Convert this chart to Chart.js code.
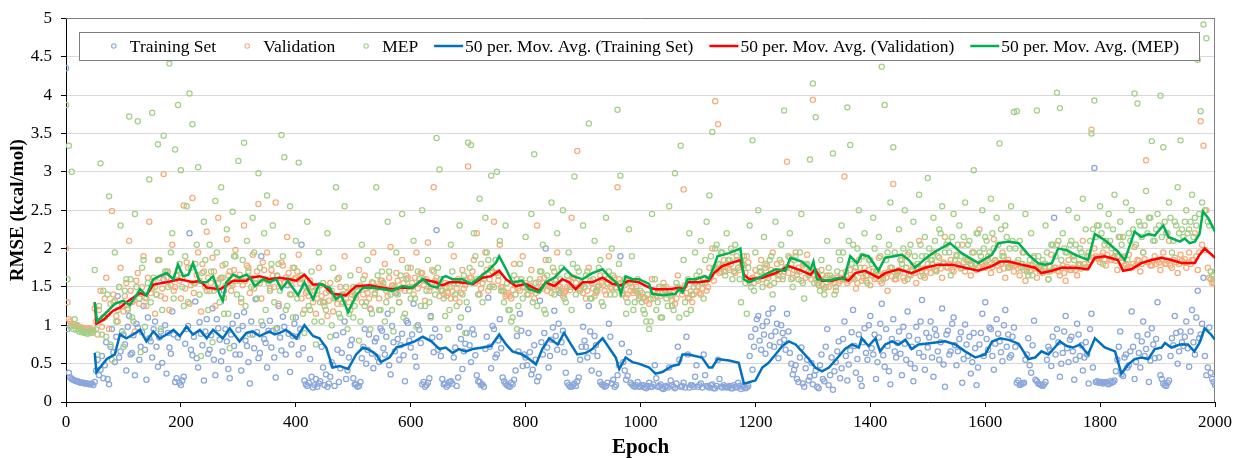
<!DOCTYPE html>
<html><head><meta charset="utf-8">
<script src="https://cdn.jsdelivr.net/npm/chart.js@4.4.1/dist/chart.umd.min.js"></script>
<style>html,body{margin:0;padding:0;background:#fff}canvas{display:block}</style>
</head><body>
<canvas id="c" width="1238" height="458"></canvas>
<script>
// ---------- DATA ----------
const seriesNames = ['Training Set','Validation','MEP','50 per. Mov. Avg. (Training Set)','50 per. Mov. Avg. (Validation)','50 per. Mov. Avg. (MEP)'];
const xTickLabels = ['0','200','400','600','800','1000','1200','1400','1600','1800','2000'];
const yTickLabels = ['0','0.5','1','1.5','2','2.5','3','3.5','4','4.5','5'];
const epochStep = 5;      // arrays "A": epochs 0,5,10,...  arrays "B": epochs 2.5,7.5,...
const trainingSetA = [
4.35,0.38,0.3,0.28,0.27,0.25,0.25,0.24,0.23,0.24,
0.26,0.55,0.42,0.31,0.78,0.23,0.95,0.52,1.38,0.66,
0.88,0.41,1.12,0.64,0.35,0.97,0.72,1.25,0.29,0.83,
0.58,1.05,0.46,0.92,1.6,0.37,0.71,1.18,0.26,0.84,
0.22,0.33,0.95,2.2,0.61,1.31,0.45,0.89,0.28,1.08,
0.68,1.22,0.35,0.96,0.53,1.45,0.79,0.31,1.02,0.62,
0.94,0.41,1.17,0.73,0.24,0.88,1.34,0.57,1.9,0.82,
0.45,1.06,0.93,0.32,1.25,0.67,0.98,1.52,0.39,0.86,
1.1,0.62,2.05,0.28,0.21,0.56,0.19,0.3,0.24,0.72,
0.22,0.2,0.33,0.48,0.87,0.26,0.64,1.05,0.41,0.74,
0.31,0.23,0.21,0.57,0.95,0.68,1.21,0.44,0.83,0.52,
0.93,0.62,1.15,0.36,0.78,1.42,0.55,0.89,0.27,1.03,
0.71,1.28,0.46,0.94,0.23,0.2,0.25,1.12,0.65,2.24,
0.85,0.3,0.24,0.22,0.27,0.58,0.21,0.98,0.43,0.76,
1.21,0.52,0.88,0.35,0.26,0.23,0.69,1.36,0.44,0.95,
0.62,1.08,0.32,0.24,0.21,0.25,0.29,0.86,1.15,0.47,
0.58,0.9,0.36,0.74,0.27,1.32,0.62,2.0,0.45,0.81,
1.19,0.68,1.42,0.93,0.38,0.22,0.2,0.24,0.27,0.55,
0.98,0.72,1.25,0.41,0.86,0.6,0.26,0.22,0.21,1.02,
0.24,0.2,0.35,1.9,0.52,0.29,0.65,0.23,0.2,0.26,
0.2,0.22,0.18,0.25,0.2,0.48,0.2,0.23,0.17,0.21,
0.45,0.22,0.18,0.72,0.2,0.25,0.85,0.19,0.22,0.33,
0.2,0.24,0.62,0.21,0.19,0.23,0.18,0.55,0.2,0.22,
0.19,0.21,0.18,0.2,0.25,0.17,0.22,0.19,0.6,0.42,
0.95,1.12,0.68,0.88,1.05,0.74,1.22,0.92,0.57,1.0,
0.81,1.15,0.64,0.36,0.48,0.26,0.71,0.2,0.55,0.33,
0.23,0.41,0.18,0.62,0.27,0.95,0.35,0.16,0.52,0.79,
0.44,1.05,0.28,0.67,1.2,0.38,0.88,0.21,0.96,0.55,
1.12,0.62,0.3,0.84,1.28,0.46,0.73,0.23,1.08,0.58,
0.92,0.35,0.76,1.18,0.5,0.27,0.98,0.64,1.33,0.42,
0.71,1.05,0.33,0.87,0.55,1.22,0.2,0.93,0.66,1.1,
0.48,0.82,0.25,1.01,0.6,0.37,0.9,0.22,0.75,1.15,
1.3,0.68,0.95,0.42,1.08,0.79,0.53,1.2,0.88,0.61,
0.97,0.25,0.22,0.24,0.55,0.83,0.38,1.06,0.27,0.23,
0.21,0.26,0.72,0.47,2.4,0.95,0.33,0.64,1.12,0.52,
0.85,0.29,1.02,0.6,0.41,0.78,0.24,1.15,3.05,0.27,
0.25,0.24,0.26,0.23,0.25,0.28,0.55,0.92,0.34,0.62,
0.48,1.18,0.3,0.86,0.45,1.05,0.69,0.26,0.96,0.57,
1.3,0.35,0.24,0.21,0.28,0.83,1.12,0.5,0.92,0.73,
1.05,0.46,1.2,0.62,1.45,0.88,1.62,0.35,0.97,0.3,
0.22];
const trainingSetB = [
0.95,0.32,0.29,0.27,0.26,0.25,0.24,0.24,0.23,0.22,
0.41,0.35,0.6,0.48,0.3,0.72,0.65,0.85,0.58,0.92,
0.75,0.98,0.62,0.87,1.02,0.55,0.91,0.68,1.1,0.79,
0.95,0.72,0.84,0.51,1.0,0.9,0.63,0.88,0.31,0.25,
0.28,0.76,0.99,0.68,0.85,0.57,1.04,0.74,0.92,0.63,
0.87,0.55,1.08,0.81,0.66,0.95,0.43,0.88,0.73,1.12,
0.62,0.99,0.8,0.52,1.05,0.7,0.91,0.64,1.0,0.77,
0.93,0.71,0.58,0.96,0.84,1.11,0.62,0.89,0.75,1.02,
0.85,0.95,0.7,0.23,0.25,0.33,0.22,0.2,0.27,0.45,
0.36,0.24,0.52,0.21,0.68,0.44,0.91,0.3,0.58,0.81,
0.23,0.2,0.26,0.72,0.5,0.88,0.63,0.79,0.58,0.96,
0.7,0.85,0.48,0.99,0.66,0.82,0.74,0.61,1.06,0.8,
0.88,0.59,1.0,0.77,0.26,0.22,0.31,0.84,0.95,0.68,
0.6,0.23,0.2,0.26,0.24,0.71,0.32,0.82,0.66,0.9,
0.74,0.95,0.61,0.27,0.22,0.2,0.85,0.72,0.99,0.58,
0.8,0.7,0.27,0.22,0.2,0.23,0.41,0.66,0.93,0.62,
0.48,0.65,0.42,0.55,0.33,0.78,0.9,0.71,0.6,0.97,
0.86,1.02,0.78,0.65,0.25,0.2,0.22,0.21,0.32,0.72,
0.8,0.58,0.92,0.66,0.74,0.37,0.23,0.2,0.25,0.85,
0.29,0.22,0.48,0.76,0.41,0.34,0.25,0.21,0.22,0.2,
0.22,0.19,0.21,0.2,0.23,0.31,0.21,0.18,0.2,0.19,
0.28,0.2,0.24,0.55,0.21,0.19,0.62,0.22,0.2,0.48,
0.22,0.19,0.35,0.2,0.22,0.18,0.21,0.3,0.19,0.2,
0.2,0.18,0.22,0.19,0.21,0.2,0.18,0.21,0.85,0.72,
1.08,0.8,0.99,0.63,1.15,0.86,0.72,1.02,0.78,0.9,
0.68,0.92,0.5,0.42,0.3,0.58,0.24,0.44,0.28,0.51,
0.35,0.2,0.48,0.3,0.72,0.22,0.58,0.4,0.66,0.31,
0.82,0.6,0.49,0.91,0.73,0.56,0.3,0.78,0.64,1.0,
0.7,0.88,0.52,1.02,0.61,0.95,0.4,0.82,0.66,0.77,
0.63,0.98,0.55,0.86,0.72,0.44,0.81,1.05,0.59,0.9,
0.84,0.58,0.95,0.66,0.78,0.49,0.88,0.62,1.02,0.74,
0.66,0.91,0.56,0.75,0.85,0.52,0.7,0.45,0.9,0.6,
0.82,0.97,0.6,0.76,0.89,0.65,1.0,0.72,0.58,0.85,
0.72,0.28,0.23,0.25,0.62,0.48,0.74,0.29,0.24,0.22,
0.23,0.55,0.68,0.85,0.62,0.78,0.5,0.92,0.7,0.81,
0.66,0.55,0.88,0.74,0.58,0.62,0.95,0.45,0.26,0.25,
0.26,0.25,0.24,0.27,0.26,0.4,0.72,0.36,0.58,0.45,
0.66,0.72,0.52,0.64,0.79,0.6,0.88,0.54,0.75,0.82,
0.58,0.3,0.22,0.25,0.6,0.74,0.9,0.66,0.78,0.85,
0.7,0.92,0.78,1.1,0.83,1.02,0.6,0.45,0.38,0.26];
const validationA = [
2.0,1.08,1.02,1.0,0.98,0.97,0.96,0.95,0.96,0.94,
1.22,0.88,1.45,1.1,1.62,0.95,2.49,1.32,1.05,1.75,
1.18,1.55,2.1,1.3,0.92,1.68,1.42,1.9,1.25,2.35,
1.48,1.15,1.85,1.38,2.97,1.62,1.2,2.05,1.5,1.72,
1.35,2.56,1.82,1.28,2.66,1.55,1.95,1.18,1.7,2.22,
1.45,1.88,1.25,2.4,1.62,1.36,2.12,1.7,1.52,1.98,
1.6,1.3,2.3,1.78,1.42,1.92,1.55,2.58,1.35,1.72,
1.95,1.48,1.65,2.6,1.28,1.82,1.55,2.15,1.4,1.75,
1.62,1.92,1.35,1.2,1.45,1.58,1.3,1.15,1.75,1.38,
1.25,1.12,1.55,1.18,1.35,1.62,1.28,1.9,1.42,1.2,
1.5,1.36,1.72,1.3,1.65,1.42,1.22,1.95,1.48,1.35,
1.58,1.8,1.38,2.02,1.52,1.68,1.3,1.85,1.45,1.62,
1.75,1.4,1.95,1.55,1.68,1.32,2.08,1.5,2.8,1.62,
1.38,1.45,1.55,1.42,1.35,1.9,1.48,1.3,1.72,1.52,
3.07,1.62,1.85,2.2,1.4,1.55,1.95,1.45,1.75,2.35,
1.68,2.05,1.5,1.38,1.42,1.35,1.8,1.6,1.45,1.9,
1.55,1.4,1.72,1.35,2.3,1.6,1.48,1.85,1.52,1.42,
1.7,1.95,1.5,1.38,1.45,1.58,2.4,1.62,3.27,1.48,
1.42,1.35,1.75,1.55,1.38,1.45,1.65,1.52,1.4,1.9,
1.48,1.62,2.8,1.55,1.42,1.36,1.58,1.5,1.45,1.42,
1.38,1.35,1.32,1.28,1.6,1.45,1.42,1.38,1.55,1.5,
1.45,1.32,1.28,1.65,1.48,2.77,1.42,1.35,1.3,1.55,
1.5,1.4,1.62,1.45,1.75,2.0,3.92,3.62,1.7,1.85,
1.8,1.72,1.95,1.68,1.75,1.85,1.78,1.9,1.55,1.62,
1.72,1.58,1.85,1.65,1.78,1.52,1.95,1.68,1.6,1.82,
1.7,3.13,1.88,1.62,1.95,1.75,1.58,1.8,1.92,1.68,
3.94,1.6,1.52,1.72,1.48,1.65,1.58,1.62,1.45,1.55,
1.68,2.94,1.55,1.72,1.62,1.48,1.85,1.58,1.75,1.65,
1.52,1.7,1.62,1.88,1.55,1.68,1.45,1.75,2.84,1.6,
1.72,1.85,1.58,1.92,1.65,1.78,1.55,2.1,1.7,1.62,
1.8,1.68,1.95,1.72,1.88,1.62,2.15,1.75,1.85,1.7,
1.92,1.78,2.05,1.7,1.85,1.65,1.95,1.72,2.25,1.8,
1.75,1.9,1.68,2.12,1.82,1.72,1.95,1.62,1.85,1.78,
1.7,1.82,1.65,1.95,1.58,1.78,1.72,1.88,1.62,1.75,
1.68,1.8,1.6,1.92,1.72,2.05,1.65,1.78,1.58,1.85,
1.72,1.9,1.65,1.8,2.1,1.75,1.95,3.55,2.0,1.88,
1.82,1.95,1.78,2.05,1.85,1.9,1.72,2.15,1.88,1.8,
1.92,1.75,2.02,1.85,1.7,1.95,3.15,1.82,1.78,1.9,
1.85,1.72,1.95,1.8,2.1,1.75,1.88,1.68,1.92,1.82,
1.75,1.95,1.85,2.2,1.72,3.66,3.34,2.5,1.62,1.55,
1.58];
const validationB = [
1.3,1.05,1.01,0.99,0.98,0.97,0.96,0.95,0.95,0.94,
1.05,1.2,0.98,1.35,1.15,1.28,1.4,1.12,1.5,1.25,
1.38,1.22,1.45,1.32,1.58,1.28,1.5,1.36,1.62,1.42,
1.55,1.4,1.62,1.48,1.35,1.7,1.52,1.45,1.65,1.58,
1.62,1.48,1.75,1.52,1.42,1.66,1.58,1.8,1.5,1.62,
1.55,1.7,1.48,1.6,1.78,1.52,1.65,1.45,1.72,1.58,
1.66,1.52,1.58,1.75,1.62,1.48,1.7,1.55,1.82,1.6,
1.58,1.72,1.5,1.64,1.55,1.78,1.62,1.68,1.52,1.6,
1.7,1.55,1.62,1.42,1.38,1.5,1.45,1.35,1.52,1.3,
1.42,1.32,1.45,1.38,1.28,1.5,1.4,1.35,1.3,1.44,
1.38,1.45,1.52,1.4,1.48,1.35,1.56,1.42,1.5,1.58,
1.5,1.45,1.62,1.52,1.42,1.58,1.48,1.55,1.65,1.5,
1.55,1.62,1.48,1.68,1.52,1.6,1.45,1.72,1.58,1.5,
1.45,1.4,1.38,1.5,1.44,1.35,1.6,1.42,1.48,1.58,
1.62,1.7,1.55,1.58,1.48,1.65,1.72,1.6,1.52,1.68,
1.58,1.5,1.44,1.4,1.38,1.46,1.52,1.48,1.56,1.5,
1.48,1.52,1.45,1.42,1.56,1.5,1.62,1.45,1.55,1.5,
1.58,1.52,1.45,1.42,1.5,1.46,1.62,1.55,1.48,1.52,
1.5,1.45,1.58,1.48,1.42,1.52,1.55,1.45,1.6,1.5,
1.55,1.48,1.6,1.45,1.52,1.4,1.45,1.42,1.5,1.38,
1.42,1.36,1.4,1.34,1.45,1.38,1.5,1.42,1.46,1.4,
1.38,1.42,1.35,1.48,1.4,1.52,1.36,1.44,1.4,1.45,
1.42,1.48,1.55,1.5,1.62,1.58,1.72,1.68,1.78,1.7,
1.75,1.8,1.7,1.85,1.72,1.78,1.68,1.82,1.6,1.55,
1.65,1.7,1.6,1.75,1.62,1.72,1.68,1.8,1.7,1.64,
1.75,1.68,1.8,1.72,1.66,1.7,1.78,1.62,1.7,1.6,
1.65,1.55,1.6,1.52,1.62,1.5,1.58,1.55,1.62,1.58,
1.6,1.65,1.58,1.62,1.7,1.55,1.68,1.62,1.58,1.72,
1.65,1.6,1.72,1.58,1.66,1.62,1.7,1.64,1.6,1.68,
1.7,1.62,1.75,1.66,1.72,1.68,1.76,1.64,1.74,1.7,
1.75,1.8,1.72,1.78,1.74,1.82,1.76,1.8,1.72,1.78,
1.8,1.74,1.82,1.76,1.84,1.78,1.8,1.75,1.82,1.77,
1.78,1.82,1.76,1.84,1.78,1.8,1.74,1.82,1.76,1.8,
1.78,1.74,1.8,1.72,1.76,1.7,1.78,1.74,1.76,1.72,
1.74,1.7,1.76,1.72,1.75,1.7,1.74,1.68,1.76,1.72,
1.75,1.72,1.78,1.74,1.8,1.76,1.85,1.88,1.9,1.86,
1.9,1.86,1.92,1.85,1.88,1.84,1.9,1.82,1.78,1.75,
1.76,1.8,1.78,1.84,1.8,1.86,1.82,1.78,1.84,1.8,
1.82,1.86,1.8,1.84,1.78,1.85,1.82,1.8,1.84,1.86,
1.82,1.8,1.85,1.9,1.95,2.05,1.98,1.75,1.6,1.56];
const mepA = [
3.87,3.34,3.0,1.08,1.0,0.95,0.93,0.91,0.92,0.9,
1.72,0.62,3.11,1.45,0.85,2.68,0.55,1.95,1.2,2.3,
0.72,1.6,3.72,1.1,2.45,3.66,0.65,1.85,1.35,2.9,
3.77,1.5,3.36,0.95,3.47,1.7,4.41,2.2,3.29,3.87,
3.02,1.25,2.55,4.02,3.62,1.8,3.06,0.6,2.35,1.45,
2.05,0.78,2.62,1.55,2.8,1.15,2.25,0.7,2.48,1.9,
3.14,1.35,3.38,2.1,0.88,2.4,1.6,2.98,1.05,2.2,
2.69,1.45,2.3,0.95,1.8,3.48,3.19,1.25,2.55,1.1,
2.1,3.12,1.65,0.9,2.35,1.2,1.5,0.75,1.95,1.05,
1.3,2.2,0.85,1.75,2.8,1.15,1.4,2.55,0.95,1.65,
1.1,1.5,0.8,2.05,1.25,1.85,0.95,1.55,2.8,1.2,
1.7,1.05,2.35,1.4,0.92,1.95,1.3,2.45,1.15,1.75,
1.35,2.1,0.98,1.6,2.5,1.25,1.85,1.1,1.7,3.44,
3.03,1.45,1.12,0.95,2.05,1.55,1.25,2.3,1.4,0.9,
3.38,3.35,2.2,1.6,2.65,1.3,2.4,1.85,2.95,1.5,
3.0,2.1,1.45,2.3,1.2,1.05,1.65,0.95,1.8,1.35,
2.15,1.5,2.45,3.23,1.25,1.7,2.05,1.15,1.85,2.6,
1.4,2.2,1.6,2.5,1.3,1.95,1.2,2.94,1.75,1.45,
2.3,1.65,3.63,1.35,2.1,1.5,1.85,1.25,2.4,1.7,
2.0,1.4,3.81,2.95,1.55,1.15,2.25,1.9,1.3,1.6,
1.45,1.2,1.05,0.95,2.45,1.6,1.3,1.1,1.5,1.35,
2.55,1.25,2.98,1.5,3.34,1.85,1.15,2.2,1.4,1.95,
1.6,2.1,1.35,2.35,2.69,3.52,2.0,1.8,1.95,1.7,
2.2,1.85,1.6,2.05,1.75,1.3,1.9,1.15,2.3,3.41,
1.95,2.5,1.7,2.15,1.55,1.85,1.4,2.35,1.65,2.05,
3.8,1.75,2.2,1.5,1.9,1.6,2.45,1.35,1.8,3.16,
4.15,3.71,1.55,1.85,1.4,2.1,1.65,3.24,1.5,1.95,
2.3,1.6,3.84,3.35,2.05,1.75,2.5,1.9,2.2,1.55,
1.85,2.4,1.7,2.15,4.37,3.87,1.95,2.6,3.32,1.65,
2.25,1.8,2.5,1.6,2.05,2.35,1.75,2.7,1.9,2.15,
2.92,1.85,2.4,1.7,2.25,2.55,1.95,2.1,1.65,2.45,
1.9,2.3,1.75,2.6,2.05,1.8,3.02,2.2,1.95,2.5,
2.15,1.85,2.65,2.0,2.4,3.37,1.9,2.3,1.75,2.55,
3.78,3.79,2.1,1.8,2.45,1.65,2.2,1.9,3.8,1.7,
1.85,2.3,1.6,2.05,1.75,4.03,3.83,2.2,1.95,2.5,
2.1,1.85,2.4,2.0,2.65,2.25,1.9,3.5,3.93,2.3,
2.55,1.8,2.1,2.45,2.0,2.7,1.9,2.35,2.15,2.6,
2.2,2.5,4.02,3.89,2.3,1.95,2.75,2.4,3.4,2.1,
2.45,3.99,3.32,2.2,2.6,1.95,2.35,2.8,3.41,2.15,
2.5,2.25,2.7,2.4,4.46,3.79,4.92,4.74,2.3,1.65,
1.7];
const mepB = [
1.6,0.98,0.95,0.94,0.92,0.91,0.9,0.89,0.9,0.92,
0.95,1.25,0.88,1.1,1.4,0.75,1.3,1.05,1.5,0.92,
1.45,1.2,1.6,1.05,1.5,1.35,1.75,0.98,1.55,1.3,
1.62,1.4,1.85,1.2,1.7,1.5,1.95,1.35,1.65,1.8,
1.5,1.9,1.3,1.75,1.55,2.05,1.4,1.68,1.85,1.2,
1.7,1.45,1.95,1.3,1.62,1.8,1.15,1.55,1.9,1.4,
1.58,1.85,1.25,1.7,1.5,1.95,1.35,1.75,1.6,1.2,
1.55,1.8,1.3,1.65,1.45,1.9,1.2,1.6,1.4,1.75,
1.35,1.6,1.15,1.5,1.25,1.7,1.05,1.45,1.3,1.55,
1.2,1.45,1.0,1.35,1.6,1.1,1.3,1.5,1.15,1.4,
1.25,1.45,1.05,1.6,1.3,1.5,1.15,1.4,1.65,1.2,
1.55,1.3,1.7,1.2,1.5,1.4,1.65,1.1,1.6,1.45,
1.5,1.35,1.7,1.25,1.6,1.45,1.3,1.55,1.4,1.75,
1.6,1.35,1.5,1.2,1.7,1.4,1.55,1.1,1.65,1.3,
1.75,1.55,1.9,1.4,1.8,1.6,1.95,1.5,1.7,1.85,
1.65,1.45,1.3,1.55,1.2,1.1,1.4,1.25,1.6,1.5,
1.4,1.6,1.3,1.55,1.45,1.7,1.2,1.65,1.5,1.75,
1.6,1.45,1.75,1.35,1.65,1.5,1.8,1.4,1.7,1.55,
1.5,1.7,1.35,1.6,1.45,1.75,1.3,1.65,1.55,1.4,
1.65,1.5,1.8,1.4,1.6,1.3,1.55,1.2,1.45,1.35,
1.3,1.15,1.4,1.05,1.35,1.2,1.5,1.1,1.45,1.25,
1.4,1.2,1.55,1.1,1.45,1.3,1.6,1.2,1.5,1.65,
1.7,1.55,1.85,1.6,1.9,1.75,2.05,1.8,1.95,1.65,
1.85,2.0,1.7,1.9,1.6,1.8,1.55,1.75,1.5,1.45,
1.6,1.75,1.5,1.8,1.65,1.9,1.55,1.7,1.85,1.6,
1.75,1.9,1.6,1.85,1.7,1.95,1.55,1.8,1.65,1.7,
1.55,1.7,1.45,1.65,1.5,1.75,1.6,1.4,1.7,1.85,
1.95,1.7,2.1,1.8,1.6,2.0,1.75,1.9,1.65,1.85,
1.8,2.0,1.7,1.9,1.6,1.85,2.05,1.75,1.95,1.7,
1.85,2.0,1.75,1.95,1.7,1.9,1.8,2.05,1.65,1.9,
2.0,1.85,2.1,1.9,2.2,1.8,2.05,1.95,2.15,1.85,
2.05,1.9,2.15,1.85,2.1,1.95,1.8,2.2,1.9,2.0,
2.1,1.95,2.2,1.85,2.05,2.25,1.9,2.15,2.0,2.1,
2.0,1.85,1.75,1.95,1.7,1.85,1.65,1.8,1.9,1.75,
1.8,1.95,1.7,2.05,1.9,2.1,1.85,2.0,1.95,2.05,
1.9,2.05,1.8,1.95,1.75,1.9,2.1,2.25,2.15,2.3,
2.2,2.05,2.3,2.1,2.25,1.95,2.15,2.05,1.9,1.85,
2.1,2.25,2.05,2.35,2.15,2.3,2.2,2.4,2.1,2.25,
2.3,2.15,2.35,2.2,2.4,2.1,2.3,2.2,2.25,2.35,
2.2,2.35,2.15,2.3,2.45,2.6,2.5,2.35,1.7,1.6];
const maTrainEpoch = [50,53,71,85,94,105,117,129,140,152,163,175,187,198,210,221,233,245,256,273,285,302,314,325,337,354,363,372,383,401,415,430,441,453,464,476,491,505,517,528,540,548,563,575,592,607,621,636,650,661,673,684,696,708,725,740,754,766,777,794,806,818,829,841,856,867,879,890,905,916,934,945,957,963,974,986,997,1015,1026,1038,1055,1067,1073,1084,1107,1119,1125,1134,1154,1171,1180,1200,1212,1223,1235,1247,1258,1270,1281,1293,1304,1316,1328,1340,1356,1368,1380,1385,1397,1409,1417,1426,1438,1449,1461,1472,1484,1507,1530,1548,1565,1583,1600,1612,1626,1641,1658,1675,1687,1698,1710,1721,1730,1742,1753,1765,1779,1791,1808,1826,1837,1849,1860,1872,1884,1895,1907,1913,1924,1939,1953,1964,1973,1982,1993,2000];
const maTrainRmse = [0.64,0.39,0.56,0.62,0.88,0.83,0.88,0.94,0.79,0.92,0.83,0.88,0.94,0.86,0.98,0.88,0.94,0.83,0.94,0.83,0.96,0.79,0.90,0.92,0.86,0.92,0.88,0.90,0.94,0.83,1.0,0.86,0.83,0.71,0.45,0.47,0.43,0.62,0.71,0.68,0.62,0.52,0.58,0.71,0.75,0.79,0.85,0.79,0.69,0.71,0.64,0.69,0.66,0.69,0.71,0.73,0.88,0.75,0.66,0.62,0.56,0.49,0.69,0.83,0.75,0.90,0.75,0.62,0.64,0.69,0.83,0.71,0.58,0.43,0.58,0.52,0.50,0.45,0.37,0.39,0.47,0.49,0.62,0.62,0.58,0.45,0.45,0.56,0.54,0.51,0.24,0.28,0.45,0.51,0.62,0.73,0.79,0.75,0.66,0.56,0.45,0.40,0.45,0.55,0.69,0.75,0.71,0.83,0.73,0.83,0.66,0.75,0.79,0.75,0.81,0.69,0.75,0.77,0.79,0.75,0.66,0.58,0.62,0.79,0.83,0.81,0.76,0.56,0.58,0.66,0.62,0.71,0.79,0.73,0.71,0.75,0.62,0.83,0.71,0.66,0.37,0.49,0.56,0.58,0.56,0.69,0.71,0.77,0.71,0.75,0.75,0.66,0.77,0.96,0.88,0.81];
const maValEpoch = [50,53,65,82,94,105,129,140,152,175,198,221,233,245,268,291,314,320,337,354,372,389,401,415,430,447,464,487,505,528,551,568,586,603,621,644,655,667,684,708,725,740,754,766,783,800,824,835,850,864,876,887,899,916,934,951,966,974,980,997,1015,1026,1050,1067,1076,1082,1102,1119,1128,1142,1165,1174,1180,1189,1212,1235,1258,1281,1296,1304,1316,1333,1351,1362,1374,1391,1414,1426,1449,1472,1495,1519,1542,1565,1588,1612,1626,1641,1663,1687,1698,1716,1733,1756,1779,1791,1808,1831,1840,1854,1872,1890,1907,1924,1942,1965,1973,1982,2000];
const maValRmse = [1.30,1.02,1.07,1.19,1.23,1.30,1.42,1.39,1.53,1.56,1.60,1.56,1.58,1.49,1.47,1.58,1.58,1.62,1.64,1.60,1.62,1.60,1.58,1.66,1.53,1.53,1.41,1.39,1.51,1.52,1.49,1.47,1.49,1.49,1.60,1.56,1.52,1.56,1.56,1.54,1.62,1.64,1.71,1.60,1.51,1.54,1.45,1.56,1.51,1.60,1.56,1.47,1.56,1.56,1.62,1.54,1.52,1.56,1.58,1.56,1.49,1.47,1.47,1.49,1.47,1.56,1.56,1.58,1.68,1.77,1.83,1.85,1.66,1.60,1.62,1.68,1.77,1.71,1.66,1.73,1.58,1.58,1.62,1.58,1.68,1.71,1.62,1.68,1.73,1.68,1.75,1.79,1.79,1.75,1.71,1.77,1.83,1.83,1.79,1.75,1.68,1.71,1.75,1.75,1.73,1.88,1.90,1.85,1.71,1.73,1.81,1.85,1.88,1.85,1.81,1.81,1.92,2.0,1.88];
const maMepEpoch = [50,54,68,85,100,111,129,140,152,163,175,187,195,204,213,221,233,245,256,268,273,279,291,302,314,320,329,343,354,366,375,386,404,415,430,441,459,470,479,491,505,517,534,551,568,586,603,621,635,647,655,661,673,690,705,716,737,748,754,766,777,794,806,824,835,850,867,882,899,916,934,945,960,966,974,986,997,1015,1020,1038,1061,1067,1073,1082,1096,1113,1119,1128,1134,1154,1174,1180,1189,1212,1235,1252,1261,1281,1296,1301,1307,1328,1345,1354,1365,1377,1385,1397,1409,1414,1426,1441,1455,1467,1478,1490,1501,1513,1539,1559,1588,1612,1623,1641,1658,1675,1692,1704,1716,1727,1742,1756,1779,1791,1808,1831,1843,1860,1872,1884,1895,1910,1919,1939,1947,1956,1965,1973,1979,1988,2000];
const maMepRmse = [1.30,1.05,1.15,1.28,1.32,1.26,1.47,1.39,1.60,1.64,1.68,1.60,1.79,1.64,1.66,1.81,1.56,1.56,1.64,1.39,1.32,1.56,1.66,1.62,1.66,1.62,1.51,1.60,1.56,1.60,1.47,1.58,1.39,1.56,1.34,1.54,1.49,1.34,1.39,1.17,1.39,1.49,1.49,1.47,1.45,1.51,1.49,1.60,1.51,1.49,1.62,1.64,1.60,1.60,1.54,1.60,1.73,1.81,1.90,1.73,1.56,1.58,1.47,1.43,1.56,1.62,1.75,1.64,1.60,1.68,1.73,1.64,1.54,1.41,1.64,1.60,1.60,1.54,1.41,1.39,1.41,1.47,1.43,1.60,1.60,1.64,1.60,1.77,1.90,1.94,2.0,1.60,1.56,1.64,1.73,1.71,1.88,1.83,1.73,1.83,1.60,1.58,1.62,1.60,1.90,1.81,1.92,1.90,1.77,1.71,1.88,1.90,1.92,1.85,1.75,1.83,1.90,1.96,2.07,1.94,1.81,1.92,2.07,2.09,2.07,1.92,1.81,1.79,1.81,2.0,1.98,1.92,1.85,2.19,2.11,1.96,1.85,2.22,2.15,2.19,2.17,2.30,2.15,2.09,2.13,2.07,2.09,2.19,2.48,2.40,2.22];

// ---------- BUILD ----------
const epochsA = trainingSetA.map((_, i) => i * epochStep);
const epochsB = trainingSetB.map((_, i) => i * epochStep + epochStep / 2);
const pts = (xs, ys) => xs.map((x, i) => ({x: x, y: ys[i]}));
const cloud = (a, b) => pts(epochsA, a).concat(pts(epochsB, b));
const FONT = '"Liberation Serif","Times New Roman",serif';

const frame = {
  id: 'frame',
  beforeDatasetsDraw(chart) {
    const {ctx, chartArea: a} = chart;
    ctx.save();
    ctx.strokeStyle = '#808080'; ctx.lineWidth = 1;
    ctx.beginPath();
    ctx.moveTo(a.left, Math.round(a.top) + 0.5); ctx.lineTo(a.right, Math.round(a.top) + 0.5);
    ctx.moveTo(Math.round(a.right) - 0.5, a.top); ctx.lineTo(Math.round(a.right) - 0.5, a.bottom);
    ctx.stroke();
    ctx.restore();
  }
};
const boxLegend = {
  id: 'boxLegend',
  afterDatasetsDraw(chart) {
    const {ctx, chartArea: a} = chart;
    ctx.save();
    ctx.font = '17.5px ' + FONT;
    const slot = 31, gap = 16, pad = 20, h = 28;
    const items = chart.data.datasets.map(ds => ({ds, w: slot + ctx.measureText(ds.label).width}));
    const total = items.reduce((s, it) => s + it.w, 0) + gap * (items.length - 1);
    let x = (a.left + a.right) / 2 - 1.5 - total / 2;
    const top = Math.round(a.top + 14), cy = top + h / 2;
    const bx = Math.round(x - pad), bw = Math.round(total + 2 * pad);
    ctx.fillStyle = '#fff';
    ctx.fillRect(bx, top, bw, h);
    ctx.strokeStyle = '#7f7f7f'; ctx.lineWidth = 1;
    ctx.strokeRect(bx + 0.5, top + 0.5, bw, h);
    ctx.textBaseline = 'middle'; ctx.textAlign = 'left';
    items.forEach(it => {
      const ds = it.ds;
      ctx.strokeStyle = ds.borderColor;
      if (ds.showLine) {
        ctx.lineWidth = ds.borderWidth;
        ctx.beginPath(); ctx.moveTo(x, cy); ctx.lineTo(x + 29, cy); ctx.stroke();
      } else {
        ctx.lineWidth = 1.1;
        ctx.beginPath(); ctx.arc(x + 15, cy, 2.2, 0, Math.PI * 2); ctx.stroke();
      }
      ctx.fillStyle = '#000';
      ctx.fillText(ds.label, x + slot, cy + 1);
      x += it.w + gap;
    });
    ctx.restore();
  }
};

const scatterDs = (label, a, b, color, order) => ({
  label, data: cloud(a, b), showLine: false,
  borderColor: color, backgroundColor: 'rgba(0,0,0,0)',
  pointRadius: 2.6, pointBorderWidth: 1.25, pointHoverRadius: 2.6, order
});
const lineDs = (label, xs, ys, color, order) => ({
  label, data: pts(xs, ys), showLine: true, fill: false,
  borderColor: color, backgroundColor: color, borderWidth: 2.5,
  pointRadius: 0, tension: 0, order
});

new Chart(document.getElementById('c'), {
  type: 'scatter',
  data: {
    datasets: [
      scatterDs(seriesNames[0], trainingSetA, trainingSetB, '#8aa6da', 3),
      scatterDs(seriesNames[1], validationA, validationB, '#f4ad7c', 2),
      scatterDs(seriesNames[2], mepA, mepB, '#a4cf88', 1),
      lineDs(seriesNames[3], maTrainEpoch, maTrainRmse, '#0070c0', -1),
      lineDs(seriesNames[4], maValEpoch, maValRmse, '#ff0000', -2),
      lineDs(seriesNames[5], maMepEpoch, maMepRmse, '#00b050', -3)
    ]
  },
  options: {
    responsive: false, animation: false, devicePixelRatio: 1,
    layout: {padding: {left: 0, right: 21, top: 10, bottom: 0}},
    plugins: {legend: {display: false}, tooltip: {enabled: false}},
    scales: {
      x: {
        type: 'linear', min: 0, max: 2000,
        afterFit(s) { s.height = 56; },
        ticks: {stepSize: 200, color: '#000', padding: 6, maxRotation: 0,
          font: {family: FONT, size: 17, lineHeight: 1.1},
          callback: (v, i) => xTickLabels[i]},
        grid: {drawOnChartArea: false, tickLength: 5, color: '#000', tickColor: '#000'},
        border: {color: '#000', width: 1},
        title: {display: true, text: 'Epoch', color: '#000', padding: {top: 0, bottom: 0},
          font: {family: FONT, size: 21, weight: 'bold', lineHeight: 1.0}}
      },
      y: {
        min: 0, max: 5,
        afterFit(s) { s.width = 66; },
        ticks: {stepSize: 0.5, color: '#000', padding: 9,
          font: {family: FONT, size: 17, lineHeight: 1.1},
          callback: (v, i) => yTickLabels[i]},
        grid: {color: '#d9d9d9', tickLength: 5, tickColor: '#000'},
        border: {color: '#000', width: 1},
        title: {display: true, text: 'RMSE (kcal/mol)', color: '#000', padding: {top: 7, bottom: 0},
          font: {family: FONT, size: 19, weight: 'bold', lineHeight: 1.2}}
      }
    }
  },
  plugins: [frame, boxLegend]
});
</script>
</body></html>
